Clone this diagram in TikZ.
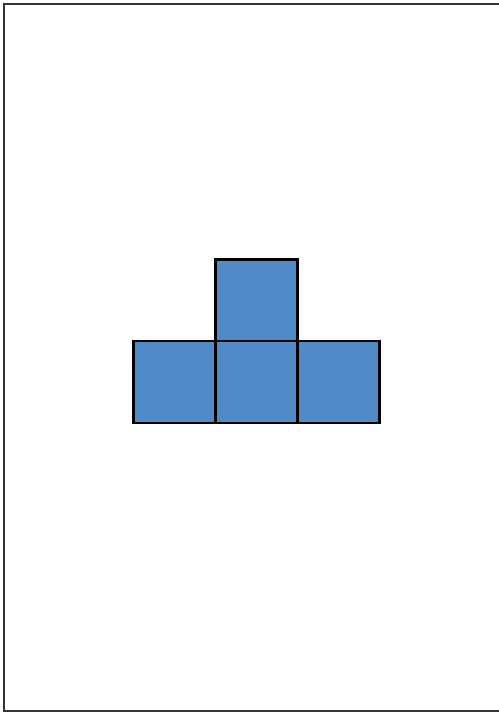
\documentclass[tikz,border=0pt]{standalone}
\usepackage{xcolor}
\usepackage{tikz}
\definecolor{tileblue}{RGB}{80,139,199}
\tikzset{cell/.style={draw=black, fill=tileblue, line width=1.4pt}}

\begin{document}
\begin{tikzpicture}[x=0.02cm, y=-0.02cm]
  % page
  \clip (0,0) rectangle (499,713);
  \draw[line width=1.3pt, black!80] (4,4) rectangle (504,711);
  % top cell
  \draw[cell] (215.5,259.5) rectangle (297.5,341);
  % bottom row
  \draw[cell] (133.5,341) rectangle (215.5,423);
  \draw[cell] (215.5,341) rectangle (297.5,423);
  \draw[cell] (297.5,341) rectangle (379.5,423);
\end{tikzpicture}
\end{document}
